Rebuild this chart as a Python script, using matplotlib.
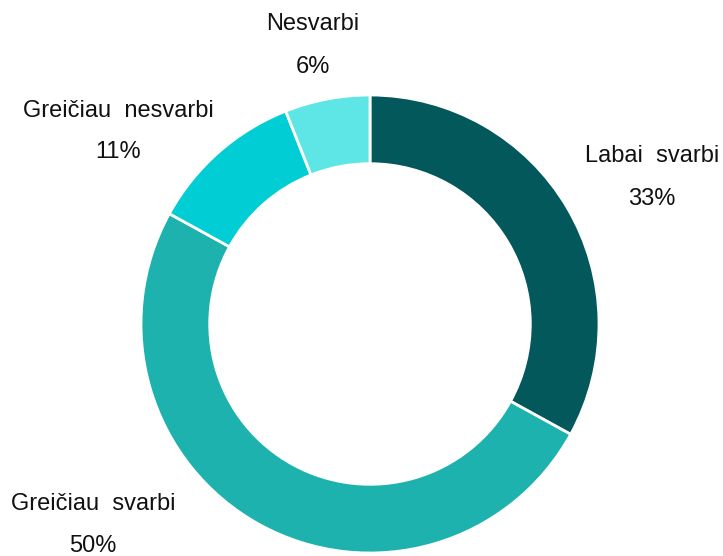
import matplotlib.pyplot as plt

# duomenys
labels = ['Labai  svarbi', 'Greičiau  svarbi', 'Greičiau  nesvarbi', 'Nesvarbi']
values = [33, 50, 11, 6]
colors = ['#03585C', '#1DB2AE', '#00CED4', '#5EE6E6']

plt.rcParams['font.family'] = ['Liberation Sans', 'DejaVu Sans']

fig = plt.figure(figsize=(7.23, 5.56), dpi=100)
ax = fig.add_axes([0, 0, 1, 1])

scale = 229.0  # pixels per unit radius
cx, cy = 370, 324

def px(x, y):
    return (x - cx) / scale, (cy - y) / scale

# label anchors in pixel space: (x centre, name baseline, percent baseline)
label_pos = [(652, 162, 205), (93, 510, 552), (118, 117, 158), (313, 30, 73)]

wedges, _ = ax.pie(values, colors=colors, startangle=90, counterclock=False,
                   radius=1, wedgeprops=dict(width=0.30, edgecolor='white', linewidth=2))

for lab, val, (x, y1, y2) in zip(labels, values, label_pos):
    ax.text(*px(x, y1), lab, ha='center', va='baseline', fontsize=17, color='#111111')
    ax.text(*px(x, y2), f"{val}%", ha='center', va='baseline', fontsize=17, color='#111111')

ax.set_xlim(-cx / scale, (723 - cx) / scale)
ax.set_ylim(-(556 - cy) / scale, cy / scale)
ax.set_aspect('auto')
ax.axis('off')

plt.savefig('out.png', dpi=100, facecolor='white')
